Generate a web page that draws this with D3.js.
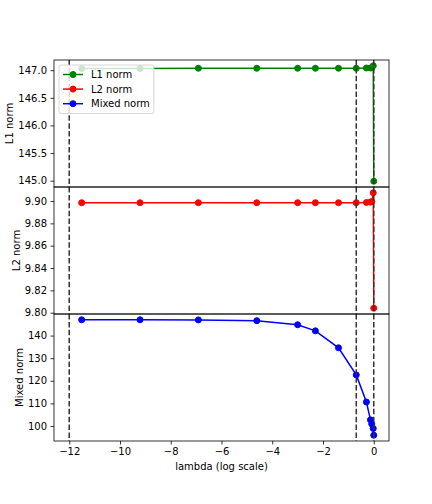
<!DOCTYPE html>
<html>
<head>
<meta charset="utf-8">
<script src="https://cdn.jsdelivr.net/npm/d3@7"></script>
<style>
  body { margin: 0; background: #fff; }
  svg text { font-family: "DejaVu Sans", sans-serif; fill: #000; }
</style>
</head>
<body>
<div id="chart"></div>
<script>
// x = ln(lambda)
const xLog = [-11.51, -9.21, -6.91, -4.61, -3.00, -2.30, -1.39, -0.69, -0.29, -0.13, -0.08, -0.02, 0.00];
const l1Norm = [147.03, 147.03, 147.035, 147.035, 147.035, 147.035, 147.035, 147.035, 147.04, 147.04, 147.045, 147.08, 144.99];
const l2Norm = [9.8985, 9.8985, 9.8985, 9.8985, 9.8985, 9.8985, 9.8985, 9.8985, 9.8987, 9.8990, 9.8995, 9.9074, 9.8040];
const mixedNorm = [147.0, 147.0, 146.95, 146.6, 144.8, 142.1, 134.6, 122.6, 110.6, 102.7, 100.9, 98.9, 95.9];

// dashed reference lines
const vLines = [-12, -0.69, 0];

const xTicks = [-12, -10, -8, -6, -4, -2, 0];
const l1Ticks = [145.0, 145.5, 146.0, 146.5, 147.0];
const l2Ticks = [9.80, 9.82, 9.84, 9.86, 9.88, 9.90];
const mixedTicks = [100, 110, 120, 130, 140];

const panels = [
  { label: "L1 norm", values: l1Norm, ticks: l1Ticks, fmt: ".1f", color: "green" },
  { label: "L2 norm", values: l2Norm, ticks: l2Ticks, fmt: ".2f", color: "red" },
  { label: "Mixed norm", values: mixedNorm, ticks: mixedTicks, fmt: "d", color: "blue" }
];

const width = 432, height = 504;
const margin = { top: 60, right: 43, bottom: 63, left: 54 };
const innerWidth = width - margin.left - margin.right;
const panelH = (height - margin.top - margin.bottom) / panels.length;

const svg = d3.select("#chart").append("svg")
  .attr("width", width)
  .attr("height", height);

// matplotlib style 5% padding
function padded(ext) {
  const p = (ext[1] - ext[0]) * 0.05;
  return [ext[0] - p, ext[1] + p];
}

const x = d3.scaleLinear()
  .domain(padded(d3.extent(xLog.concat(vLines))))
  .range([0, innerWidth]);

panels.forEach((p, i) => {
  const g = svg.append("g")
    .attr("transform", "translate(" + margin.left + "," + (margin.top + i * panelH) + ")");

  const y = d3.scaleLinear()
    .domain(padded(d3.extent(p.values)))
    .range([panelH, 0]);

  const pts = xLog.map((v, j) => [v, p.values[j]]);

  g.append("path")
    .datum(pts)
    .attr("fill", "none")
    .attr("stroke", p.color)
    .attr("stroke-width", 1.5)
    .attr("d", d3.line().x((d) => x(d[0])).y((d) => y(d[1])));

  g.selectAll(".pt")
    .data(pts)
    .enter()
    .append("circle")
    .attr("cx", (d) => x(d[0]))
    .attr("cy", (d) => y(d[1]))
    .attr("r", 3)
    .attr("fill", p.color)
    .attr("stroke", p.color)
    .attr("stroke-width", 1);

  g.selectAll(".vl")
    .data(vLines)
    .enter()
    .append("line")
    .attr("x1", (d) => x(d))
    .attr("x2", (d) => x(d))
    .attr("y1", 0)
    .attr("y2", panelH)
    .attr("stroke", "#333")
    .attr("stroke-width", 1.5)
    .attr("stroke-dasharray", "5.5,2.4");

  const yAxis = g.append("g")
    .call(d3.axisLeft(y).tickValues(p.ticks).tickFormat(d3.format(p.fmt))
      .tickSize(3.5).tickSizeOuter(0).tickPadding(3.5));
  yAxis.select(".domain").remove();
  yAxis.selectAll("line").attr("stroke-width", 0.8);
  yAxis.selectAll("text").style("font-size", "10px").style("font-family", "DejaVu Sans");

  if (i === panels.length - 1) {
    const xAxis = g.append("g")
      .attr("transform", "translate(0," + panelH + ")")
      .call(d3.axisBottom(x).tickValues(xTicks)
        .tickSize(3.5).tickSizeOuter(0).tickPadding(3.5));
    xAxis.select(".domain").remove();
    xAxis.selectAll("line").attr("stroke-width", 0.8);
    xAxis.selectAll("text").style("font-size", "10px").style("font-family", "DejaVu Sans");

    g.append("text")
      .attr("x", innerWidth / 2)
      .attr("y", panelH + 29)
      .attr("text-anchor", "middle")
      .style("font-size", "10px")
      .text("lambda (log scale)");
  }

  g.append("rect")
    .attr("width", innerWidth)
    .attr("height", panelH)
    .attr("fill", "none")
    .attr("stroke", "#000")
    .attr("stroke-width", 0.8);

  const bb = yAxis.node().getBBox();
  g.append("text")
    .attr("transform", "translate(" + (bb.x - 5) + "," + panelH / 2 + ") rotate(-90)")
    .attr("text-anchor", "middle")
    .style("font-size", "10px")
    .text(p.label);
});

// legend, upper left of the top panel
const legend = svg.append("g")
  .attr("transform", "translate(" + (margin.left + 5) + "," + (margin.top + 5) + ")");

const frame = legend.append("rect")
  .attr("rx", 2)
  .attr("fill", "#fff")
  .attr("fill-opacity", 0.8)
  .attr("stroke", "#ccc")
  .attr("stroke-width", 0.8);

panels.forEach((p, i) => {
  const cy = 9.5 + i * 14.6;
  legend.append("line")
    .attr("x1", 4).attr("x2", 24)
    .attr("y1", cy).attr("y2", cy)
    .attr("stroke", p.color)
    .attr("stroke-width", 1.5);
  legend.append("circle")
    .attr("cx", 14).attr("cy", cy).attr("r", 3)
    .attr("fill", p.color)
    .attr("stroke", p.color)
    .attr("stroke-width", 1);
  legend.append("text")
    .attr("class", "leg-text")
    .attr("x", 32)
    .attr("y", cy + 3.6)
    .style("font-size", "10px")
    .text(p.label);
});

let textRight = 0;
legend.selectAll(".leg-text").each(function () {
  const b = this.getBBox();
  textRight = Math.max(textRight, b.x + b.width);
});
frame.attr("width", textRight + 4).attr("height", 48.5);
</script>
</body>
</html>
